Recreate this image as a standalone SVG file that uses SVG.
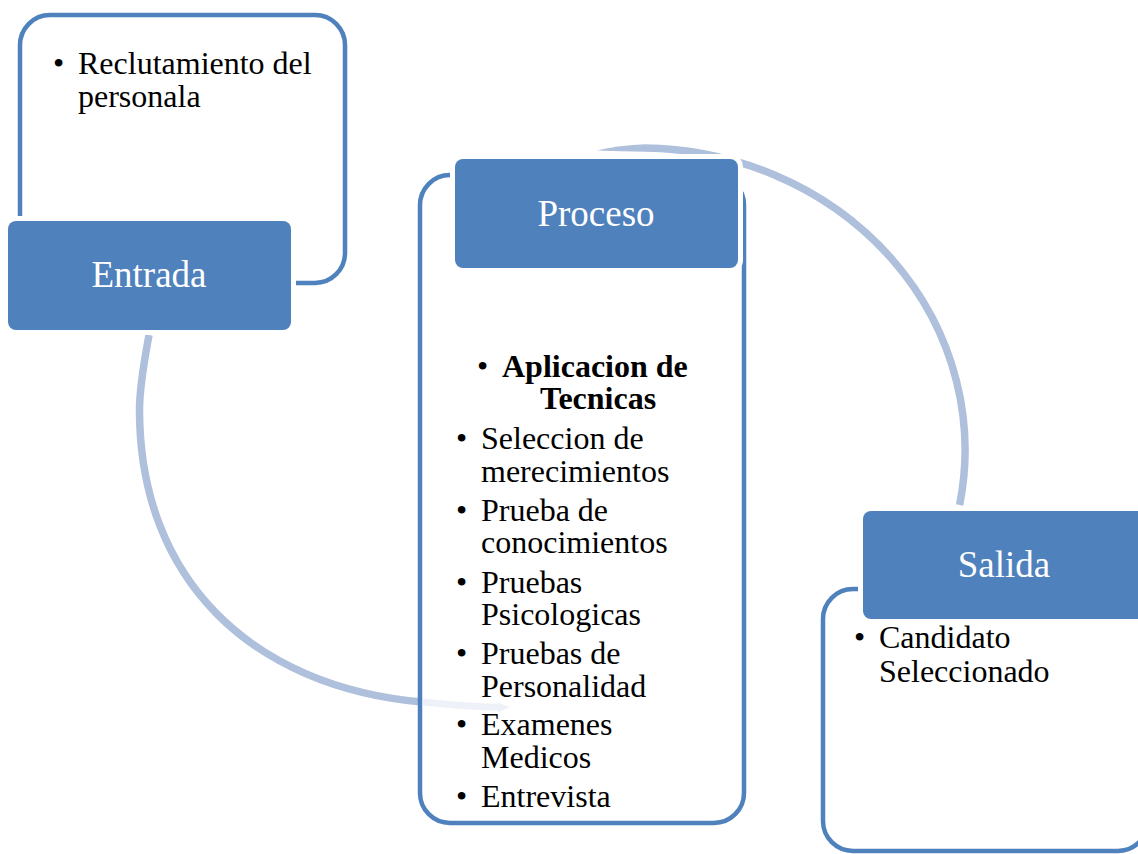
<svg xmlns="http://www.w3.org/2000/svg" width="1138" height="854" viewBox="0 0 1138 854">
<style>
.arc{fill:none;stroke:#afc0dc;stroke-width:7.5}
.tbox{fill:#ffffff;stroke:#4f81bd;stroke-width:4.5}
.hbox{fill:#4f81bd;stroke:#ffffff;stroke-width:10;paint-order:stroke}
.hd{font-family:"Liberation Serif","Times New Roman",serif;font-size:37px;fill:#ffffff;text-anchor:middle}
.tx{font-family:"Liberation Serif","Times New Roman",serif;font-size:32px;fill:#000000}
.b{font-weight:bold}
</style>
<rect width="1138" height="854" fill="#ffffff"/>
<g id="connectors">
<path class="arc" d="M149,335 C144.5,360 139.5,385 139.5,410 C139.5,580 252,686.7 422,702"/>
<path class="arc" d="M645,148 A325,302 0 0 1 959.6,505"/>
<path d="M597,150.6 Q620,145 645.5,144.3 L645.5,151.8 Q620,151.5 597,150.6 Z" fill="#afc0dc"/>
</g>
<g id="entrada">
<rect class="tbox" x="20" y="15" width="325" height="268" rx="30"/>
<rect class="hbox" x="8" y="221" width="283" height="109" rx="8"/>
<text class="hd" x="149" y="287">Entrada</text>
<text class="tx" x="53" y="74">•</text>
<text class="tx" x="78" y="74">Reclutamiento del</text>
<text class="tx" x="78" y="107">personala</text>
</g>
<g id="proceso">
<rect class="tbox" x="420" y="175" width="324" height="648" rx="30"/>
<rect class="hbox" x="455" y="159" width="283" height="109" rx="8"/>
<text class="hd" x="596" y="226">Proceso</text>
<text class="tx" x="477" y="377">•</text>
<text class="tx b" x="502" y="377">Aplicacion de</text>
<text class="tx b" x="540" y="409">Tecnicas</text>
<text class="tx" x="456" y="449">•</text>
<text class="tx" x="481" y="449">Seleccion de</text>
<text class="tx" x="481" y="482">merecimientos</text>
<text class="tx" x="456" y="521">•</text>
<text class="tx" x="481" y="521">Prueba de</text>
<text class="tx" x="481" y="553">conocimientos</text>
<text class="tx" x="456" y="593">•</text>
<text class="tx" x="481" y="593">Pruebas</text>
<text class="tx" x="481" y="625">Psicologicas</text>
<text class="tx" x="456" y="664">•</text>
<text class="tx" x="481" y="664">Pruebas de</text>
<text class="tx" x="481" y="697">Personalidad</text>
<text class="tx" x="456" y="735">•</text>
<text class="tx" x="481" y="735">Examenes</text>
<text class="tx" x="481" y="768">Medicos</text>
<text class="tx" x="456" y="807">•</text>
<text class="tx" x="481" y="807">Entrevista</text>
</g>
<g id="salida">
<rect class="tbox" x="823" y="589" width="325" height="262" rx="30"/>
<rect class="hbox" x="863" y="511" width="283" height="108" rx="8"/>
<text class="hd" x="1004" y="577">Salida</text>
<text class="tx" x="854" y="648">•</text>
<text class="tx" x="879" y="648">Candidato</text>
<text class="tx" x="879" y="682">Seleccionado</text>
</g>
<g id="connector-tip">
<path d="M423,702.1 C450,705 478,707 500,707.2" fill="none" stroke="#eef2f8" stroke-width="7"/>
<path d="M498,702.5 L510,707.3 L498,712 Z" fill="#eef2f8"/>
</g>
</svg>
